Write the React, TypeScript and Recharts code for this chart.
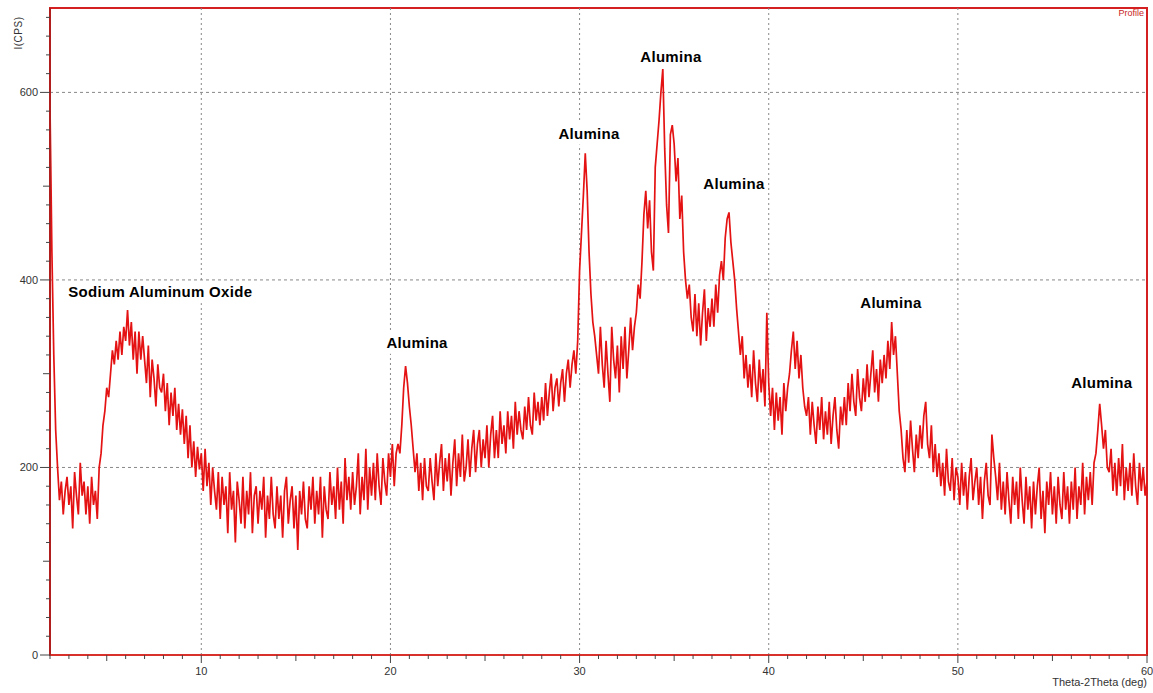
import React from 'react';
import {
  ComposedChart,
  Line,
  XAxis,
  YAxis,
  ReferenceLine,
  ReferenceArea,
  ReferenceDot,
} from 'recharts';

// Scan parameters (2-theta, degrees)
const scanStart = 2;
const scanStep = 0.1;

// Intensity (CPS), one row per degree
const intensity: number[] = [
  /* 2 */ 585, 430, 320, 240, 200, 165, 185, 150, 175, 190,
  /* 3 */ 160, 180, 135, 195, 170, 150, 205, 170, 185, 150,
  /* 4 */ 180, 140, 190, 160, 175, 145, 200, 215, 245, 260,
  /* 5 */ 285, 275, 300, 325, 310, 335, 315, 345, 320, 350,
  /* 6 */ 335, 368, 330, 355, 315, 345, 300, 345, 315, 340,
  /* 7 */ 315, 290, 330, 275, 315, 295, 265, 310, 285, 280,
  /* 8 */ 300, 260, 290, 245, 280, 255, 285, 240, 268, 235,
  /* 9 */ 262, 225, 255, 210, 245, 200, 228, 190, 222, 198,
  /* 10 */ 215, 175, 220, 180, 205, 160, 200, 175, 155, 195,
  /* 11 */ 145, 190, 160, 180, 130, 195, 155, 175, 120, 185,
  /* 12 */ 165, 140, 190, 135, 175, 150, 195, 130, 170, 180,
  /* 13 */ 140, 175, 155, 190, 125, 170, 145, 190, 150, 135,
  /* 14 */ 180, 145, 170, 125, 175, 190, 140, 165, 180, 135,
  /* 15 */ 170, 112, 175, 150, 185, 145, 135, 180, 155, 190,
  /* 16 */ 140, 175, 150, 190, 125, 180, 155, 145, 195, 160,
  /* 17 */ 180, 145, 200, 155, 185, 140, 210, 165, 190, 155,
  /* 18 */ 195, 160, 180, 215, 150, 190, 165, 220, 155, 200,
  /* 19 */ 170, 205, 165, 215, 180, 160, 210, 185, 170, 215,
  /* 20 */ 190, 225, 180, 215, 225, 215, 245, 285, 308, 290,
  /* 21 */ 265, 245, 220, 195, 215, 175, 205, 165, 210, 180,
  /* 22 */ 175, 210, 185, 165, 215, 180, 205, 225, 175, 210,
  /* 23 */ 185, 215, 170, 205, 230, 180, 215, 190, 235, 185,
  /* 24 */ 200, 230, 190, 220, 240, 195, 225, 240, 200, 230,
  /* 25 */ 210, 245, 200, 235, 255, 210, 240, 210, 260, 225,
  /* 26 */ 245, 215, 260, 230, 255, 220, 270, 235, 260, 240,
  /* 27 */ 230, 265, 240, 275, 245, 235, 280, 250, 270, 245,
  /* 28 */ 275, 250, 290, 255, 280, 300, 260, 285, 295, 265,
  /* 29 */ 290, 305, 270, 300, 315, 285, 310, 325, 300, 335,
  /* 30 */ 410, 450, 490, 535, 495, 430, 385, 355, 340, 320,
  /* 31 */ 300, 350, 310, 285, 335, 300, 270, 350, 315, 295,
  /* 32 */ 330, 280, 340, 305, 350, 295, 325, 360, 325, 350,
  /* 33 */ 365, 395, 380, 420, 470, 495, 455, 485, 430, 410,
  /* 34 */ 520, 545, 570, 600, 625, 540, 480, 450, 555, 565,
  /* 35 */ 545, 505, 530, 465, 490, 430, 400, 380, 395, 360,
  /* 36 */ 345, 385, 340, 375, 330, 365, 390, 335, 370, 350,
  /* 37 */ 380, 350, 395, 365, 405, 420, 400, 445, 465, 472,
  /* 38 */ 440, 420, 400, 370, 345, 320, 340, 295, 320, 285,
  /* 39 */ 310, 275, 325, 290, 270, 315, 280, 305, 265, 365,
  /* 40 */ 290, 255, 285, 240, 280, 250, 275, 235, 290, 260,
  /* 41 */ 285, 300, 325, 345, 305, 335, 295, 320, 285, 265,
  /* 42 */ 255, 275, 235, 270, 245, 225, 265, 240, 275, 230,
  /* 43 */ 260, 235, 270, 225, 255, 275, 240, 220, 265, 245,
  /* 44 */ 275, 245, 290, 260, 300, 270, 255, 305, 275, 260,
  /* 45 */ 295, 270, 310, 275, 300, 325, 280, 305, 270, 315,
  /* 46 */ 290, 320, 295, 335, 305, 355, 320, 340, 300, 260,
  /* 47 */ 240, 210, 195, 240, 205, 250, 220, 195, 235, 210,
  /* 48 */ 245, 220, 255, 270, 225, 210, 245, 195, 225, 190,
  /* 49 */ 215, 180, 205, 170, 220, 185, 175, 210, 165, 200,
  /* 50 */ 190, 160, 205, 170, 195, 155, 190, 210, 165, 185,
  /* 51 */ 200, 160, 190, 145, 185, 205, 170, 160, 235, 210,
  /* 52 */ 190, 165, 205, 155, 185, 150, 195, 165, 140, 190,
  /* 53 */ 160, 185, 145, 200, 165, 140, 190, 155, 180, 135,
  /* 54 */ 185, 150, 180, 200, 145, 175, 130, 185, 160, 195,
  /* 55 */ 150, 180, 140, 190, 160, 145, 195, 155, 180, 140,
  /* 56 */ 185, 155, 200, 145, 180, 160, 205, 150, 190, 165,
  /* 57 */ 195, 160, 205, 215, 240, 268, 245, 220, 240, 200,
  /* 58 */ 195, 220, 175, 205, 170, 210, 180, 225, 165, 200,
  /* 59 */ 175, 205, 170, 215, 180, 160, 205, 175, 200, 170,
  /* 60 */ 185,
];

// Axis ticks
const xTicks: number[] = Array.from({ length: 59 }, (_, i) => i + 2);
const yTicks: number[] = Array.from({ length: 35 }, (_, i) => i * 20);
const xGrid: number[] = [10, 20, 30, 40, 50];
const yGrid: number[] = [200, 400, 600];

// Peak annotations
const annoText: string[] = [
  'Sodium Aluminum Oxide',
  'Alumina',
  'Alumina',
  'Alumina',
  'Alumina',
  'Alumina',
  'Alumina',
];
const annoX: number[] = [7.83, 21.41, 30.5, 34.83, 38.16, 46.46, 57.61];
const annoY: number[] = [387, 333, 556, 638, 502, 375, 290];

const data = intensity.map((v, i) => ({
  theta: Math.round((scanStart + i * scanStep) * 100) / 100,
  cps: v,
}));

const FONT = '"Liberation Sans", Arial, Helvetica, sans-serif';

const XTick = (props: any) => {
  const { x, y, payload } = props;
  const v = payload.value;
  const len = v % 10 === 0 ? 8 : v % 5 === 0 ? 6 : 4;
  return (
    <g>
      <line x1={x} x2={x} y1={y} y2={y + len} stroke="#444" strokeWidth={1} />
      {v % 10 === 0 && (
        <text x={x} y={y + 20} textAnchor="middle" fontSize={11} fill="#333" fontFamily={FONT}>
          {v}
        </text>
      )}
    </g>
  );
};

const YTick = (props: any) => {
  const { x, y, payload } = props;
  const v = payload.value;
  const len = v % 200 === 0 ? 10 : v % 100 === 0 ? 7 : 4;
  return (
    <g>
      <line x1={x - len} x2={x} y1={y} y2={y} stroke="#444" strokeWidth={1} />
      {v % 200 === 0 && (
        <text x={x - 12} y={y + 4} textAnchor="end" fontSize={11} fill="#333" fontFamily={FONT}>
          {v}
        </text>
      )}
    </g>
  );
};

const makeLabelShape = (text: string) => (props: any) => {
  const { cx, cy } = props;
  const w = text.length * 8.7 + 6;
  return (
    <g>
      <rect x={cx - w / 2} y={cy - 11} width={w} height={22} fill="#fff" />
      <text
        x={cx}
        y={cy + 5}
        textAnchor="middle"
        fontSize={15}
        fontWeight="bold"
        letterSpacing={0.3}
        fill="#000"
        fontFamily={FONT}
      >
        {text}
      </text>
    </g>
  );
};

export default function App() {
  return (
    <div style={{ position: 'absolute', left: 0, top: 0, width: 1153, height: 693, background: '#fff' }}>
      <ComposedChart
        width={1153}
        height={693}
        data={data}
        margin={{ top: 8, right: 6, bottom: 0, left: 0 }}
      >
        <XAxis
          dataKey="theta"
          type="number"
          domain={[2, 60]}
          allowDataOverflow
          ticks={xTicks}
          interval={0}
          height={38}
          tickSize={0}
          tickMargin={0}
          tickLine={false}
          tick={<XTick />}
          axisLine={{ stroke: '#d8302a', strokeWidth: 2 }}
        />
        <YAxis
          type="number"
          domain={[0, 690]}
          allowDataOverflow
          ticks={yTicks}
          interval={0}
          width={50}
          tickSize={0}
          tickMargin={0}
          tickLine={false}
          tick={<YTick />}
          axisLine={{ stroke: '#b01e1e', strokeWidth: 2 }}
        />
        {xGrid.map((g) => (
          <ReferenceLine key={'vx' + g} x={g} stroke="#888" strokeDasharray="2 3" strokeWidth={1} />
        ))}
        {yGrid.map((g) => (
          <ReferenceLine key={'hy' + g} y={g} stroke="#888" strokeDasharray="3 3" strokeWidth={1} />
        ))}
        <ReferenceArea
          x1={2}
          x2={60}
          y1={0}
          y2={690}
          fill="none"
          fillOpacity={0}
          stroke="#d42020"
          strokeWidth={2}
        />
        <Line
          dataKey="cps"
          type="linear"
          stroke="#e41212"
          strokeWidth={1.7}
          strokeLinejoin="bevel"
          dot={false}
          activeDot={false}
          isAnimationActive={false}
        />
        {annoText.map((t, i) => (
          <ReferenceDot
            key={'a' + i}
            x={annoX[i]}
            y={annoY[i]}
            r={0}
            shape={makeLabelShape(t)}
          />
        ))}
      </ComposedChart>
      <div
        style={{
          position: 'absolute',
          left: 18,
          top: 33,
          transform: 'translate(-50%, -50%) rotate(-90deg)',
          fontFamily: FONT,
          fontSize: 10,
          color: '#333',
          whiteSpace: 'nowrap',
          letterSpacing: 0.5,
        }}
      >
        I(CPS)
      </div>
      <div
        style={{
          position: 'absolute',
          right: 9,
          top: 8,
          fontFamily: FONT,
          fontSize: 9,
          color: '#c81e1e',
          whiteSpace: 'nowrap',
        }}
      >
        Profile
      </div>
      <div
        style={{
          position: 'absolute',
          right: 6,
          top: 676,
          fontFamily: FONT,
          fontSize: 11,
          color: '#333',
          whiteSpace: 'nowrap',
        }}
      >
        Theta-2Theta (deg)
      </div>
    </div>
  );
}
